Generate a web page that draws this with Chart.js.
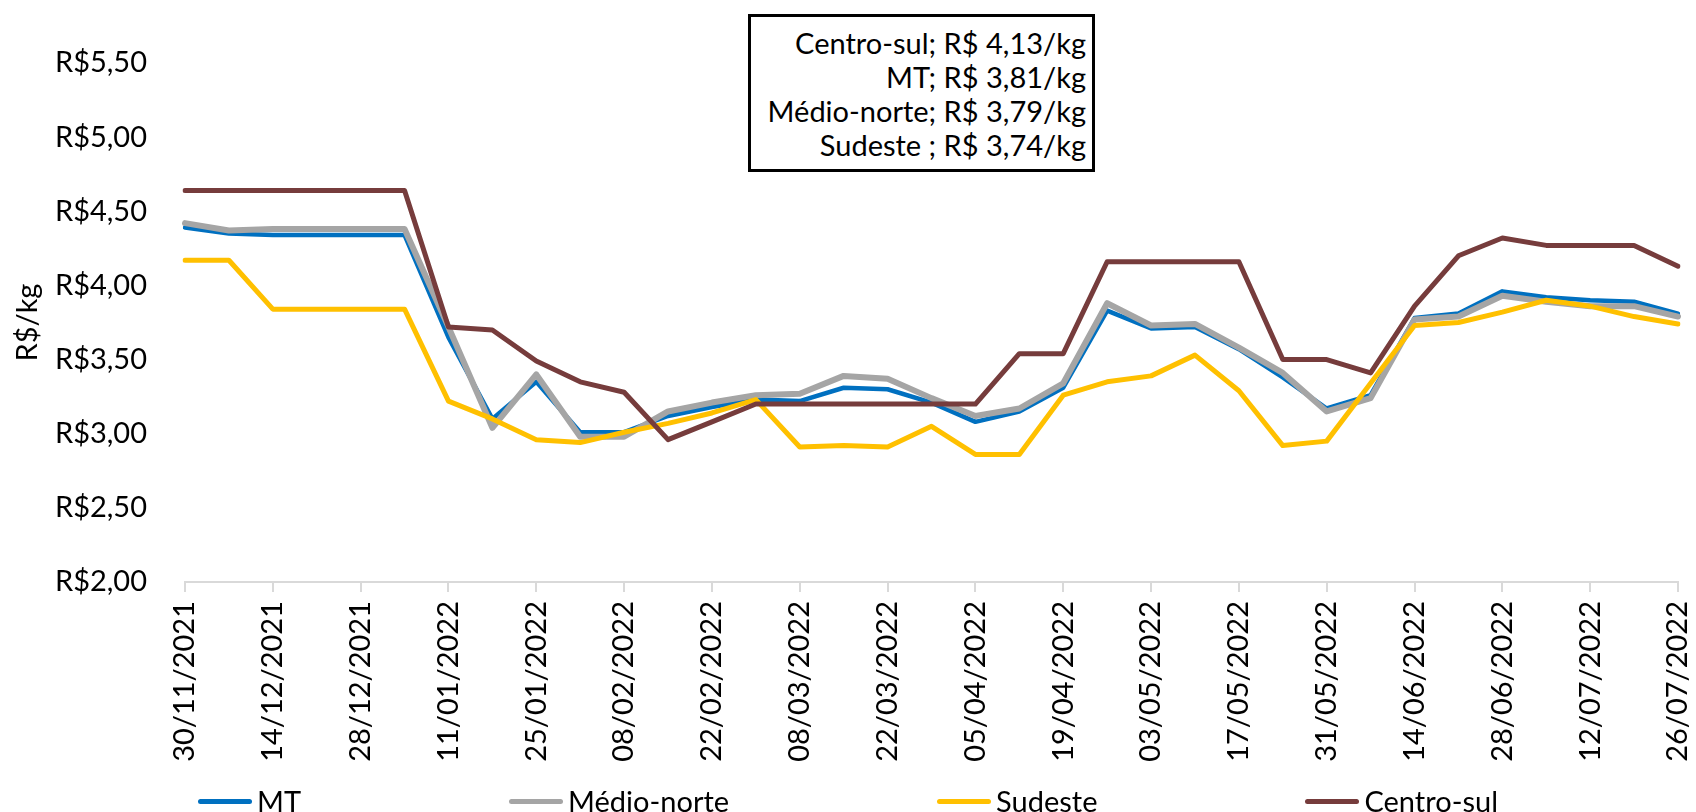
<!DOCTYPE html>
<html lang="pt-BR">
<head>
<meta charset="utf-8">
<title>Preço R$/kg por região</title>
<script src="https://cdn.jsdelivr.net/npm/chart.js@4.4.1/dist/chart.umd.min.js"></script>
<style>
  html, body { margin: 0; padding: 0; background: #fff; }
  #wrap { position: relative; width: 1696px; height: 812px; font-family: Lato, sans-serif; }
  #caixa {
    position: absolute; left: 748px; top: 14px; width: 347px; height: 158px;
    box-sizing: border-box; border: 3px solid #000; background: #fff;
    padding: 9px 6px 0 0; text-align: right; font-size: 29px; line-height: 34px; color: #000;
  }
  #legenda {
    position: absolute; left: 0; top: 784px; width: 1696px; height: 34px;
    display: flex; justify-content: center; gap: 208px; font-size: 29px; line-height: 34px; color: #000;
  }
  #legenda .item { display: flex; align-items: center; white-space: nowrap; }
  #legenda .traco { display: inline-block; width: 54px; height: 5px; border-radius: 3px; margin-right: 5px; }
</style>
</head>
<body>
<div id="wrap">
  <canvas id="grafico"></canvas>
  <div id="caixa"></div>
  <div id="legenda"></div>
</div>
<script>
// datas semanais (eixo x)
const DATAS = [
  '30/11/2021', '07/12/2021', '14/12/2021', '21/12/2021', '28/12/2021', '04/01/2022',
  '11/01/2022', '18/01/2022', '25/01/2022', '01/02/2022', '08/02/2022', '15/02/2022',
  '22/02/2022', '01/03/2022', '08/03/2022', '15/03/2022', '22/03/2022', '29/03/2022',
  '05/04/2022', '12/04/2022', '19/04/2022', '26/04/2022', '03/05/2022', '10/05/2022',
  '17/05/2022', '24/05/2022', '31/05/2022', '07/06/2022', '14/06/2022', '21/06/2022',
  '28/06/2022', '05/07/2022', '12/07/2022', '19/07/2022', '26/07/2022'
];

// R$/kg
const MT = [
  4.39, 4.35, 4.34, 4.34, 4.34, 4.34, 3.65, 3.10, 3.35, 3.01, 3.01, 3.12,
  3.18, 3.23, 3.22, 3.31, 3.30, 3.21, 3.08, 3.15, 3.31, 3.83, 3.71, 3.72,
  3.57, 3.38, 3.17, 3.26, 3.78, 3.81, 3.96, 3.92, 3.90, 3.89, 3.81
];
const MEDIO_NORTE = [
  4.42, 4.37, 4.38, 4.38, 4.38, 4.38, 3.72, 3.04, 3.40, 2.98, 2.98, 3.15,
  3.21, 3.26, 3.27, 3.39, 3.37, 3.24, 3.12, 3.17, 3.34, 3.88, 3.73, 3.74,
  3.58, 3.41, 3.15, 3.24, 3.77, 3.79, 3.93, 3.89, 3.86, 3.86, 3.79
];
const SUDESTE = [
  4.17, 4.17, 3.84, 3.84, 3.84, 3.84, 3.22, 3.10, 2.96, 2.94, 3.01, 3.07,
  3.14, 3.23, 2.91, 2.92, 2.91, 3.05, 2.86, 2.86, 3.26, 3.35, 3.39, 3.53,
  3.29, 2.92, 2.95, 3.34, 3.73, 3.75, 3.82, 3.90, 3.86, 3.79, 3.74
];
const CENTRO_SUL = [
  4.64, 4.64, 4.64, 4.64, 4.64, 4.64, 3.72, 3.70, 3.49, 3.35, 3.28, 2.96,
  3.08, 3.20, 3.20, 3.20, 3.20, 3.20, 3.20, 3.54, 3.54, 4.16, 4.16, 4.16,
  4.16, 3.50, 3.50, 3.41, 3.86, 4.20, 4.32, 4.27, 4.27, 4.27, 4.13
];

// eixo y
const Y_MIN = 2;
const Y_MAX = 5.5;
const Y_PASSO = 0.5;

const FONTE = { family: 'Lato', size: 29 };

const SERIES = [
  { nome: 'MT',          rotulo: 'MT',          dados: MT,          cor: '#0070C0', largura: 4.5, ordem: 3 },
  { nome: 'Médio-norte', rotulo: 'Médio-norte', dados: MEDIO_NORTE, cor: '#A5A5A5', largura: 6,   ordem: 2 },
  { nome: 'Sudeste',     rotulo: 'Sudeste ',    dados: SUDESTE,     cor: '#FFC000', largura: 5,   ordem: 1 },
  { nome: 'Centro-sul',  rotulo: 'Centro-sul',  dados: CENTRO_SUL,  cor: '#763C3C', largura: 5,   ordem: 0 },
];

function reais(v) {
  return v.toFixed(2).replace('.', ',');
}

// caixa com o último preço de cada região, do maior para o menor
function montarCaixa() {
  const el = document.getElementById('caixa');
  const ultimos = SERIES
    .map(s => ({ rotulo: s.rotulo, valor: s.dados[s.dados.length - 1] }))
    .sort((a, b) => b.valor - a.valor);
  el.innerHTML = ultimos.map(u => `<div>${u.rotulo}; R$ ${reais(u.valor)}/kg</div>`).join('');
}

function montarLegenda() {
  const el = document.getElementById('legenda');
  el.innerHTML = SERIES.map(s =>
    `<div class="item"><span class="traco" style="background:${s.cor}"></span>${s.nome}</div>`
  ).join('');
}

const ctx = document.getElementById('grafico');
new Chart(ctx, {
  type: 'line',
  data: {
    labels: DATAS,
    datasets: SERIES.map(s => ({
      label: s.nome,
      data: s.dados,
      borderColor: s.cor,
      backgroundColor: s.cor,
      borderWidth: s.largura,
      borderCapStyle: 'round',
      borderJoinStyle: 'round',
      pointRadius: 0,
      tension: 0,
      order: s.ordem,
    })),
  },
  options: {
    responsive: true,
    maintainAspectRatio: false,
    animation: false,
    layout: { padding: { top: 63, right: 18, bottom: 50, left: 0 } },
    plugins: {
      legend: { display: false },
      tooltip: { enabled: false },
    },
    scales: {
      x: {
        grid: {
          display: true,
          drawOnChartArea: false,
          drawTicks: true,
          tickLength: 10,
          lineWidth: 2,
          color: c => (c.index % 2 === 0 ? '#D9D9D9' : 'rgba(0,0,0,0)'),
        },
        border: { display: true, color: '#D9D9D9', width: 2 },
        ticks: {
          autoSkip: false,
          minRotation: 90,
          maxRotation: 90,
          padding: 9,
          color: '#000',
          font: FONTE,
          callback: (v, i) => (i % 2 === 0 ? DATAS[i] : ''),
        },
        afterFit: s => {
          s.height = 180;
          // o rótulo girado cabe na margem, sem recuo extra
          s.paddingLeft = 0;
          s.paddingRight = 0;
        },
      },
      y: {
        min: Y_MIN,
        max: Y_MAX,
        grid: { display: false, drawTicks: false },
        border: { display: false },
        ticks: {
          stepSize: Y_PASSO,
          padding: 38,
          color: '#000',
          font: FONTE,
          callback: v => 'R$' + reais(v),
        },
        title: {
          display: true,
          text: 'R$/kg',
          color: '#000',
          font: FONTE,
          padding: { top: 10, bottom: 0 },
        },
        afterFit: s => { s.width = 185; },
      },
    },
  },
});

montarCaixa();
montarLegenda();
</script>
</body>
</html>
